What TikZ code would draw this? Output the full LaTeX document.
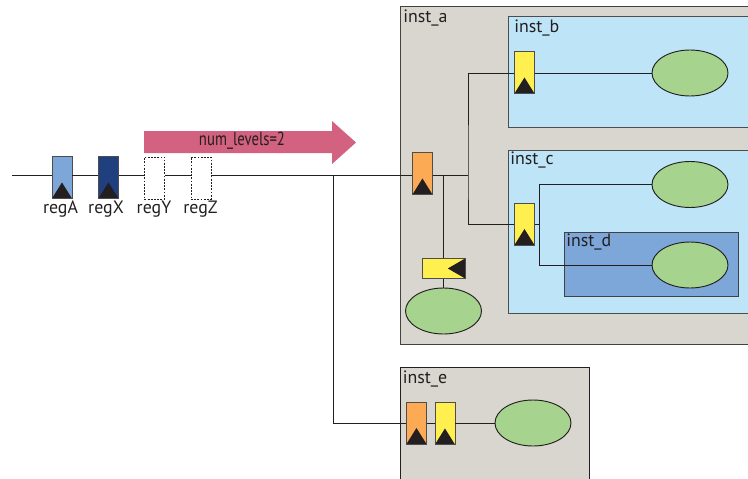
\documentclass[tikz,border=0pt]{standalone}
\usepackage{fontspec}
\setmainfont{PT Sans}
\newfontfamily\condfont[FakeStretch=0.78]{PT Sans}
\definecolor{ink}{HTML}{231F20}
\definecolor{wall}{HTML}{D9D6D0}
\definecolor{sky}{HTML}{BEE5F7}
\definecolor{midblue}{HTML}{7DA7D9}
\definecolor{navy}{HTML}{1F3F7F}
\definecolor{sun}{HTML}{FFF04F}
\definecolor{amber}{HTML}{FDAA55}
\definecolor{leaf}{HTML}{A6D38D}
\definecolor{rose}{HTML}{D2627F}
\tikzset{
  x=0.75pt,y=-0.75pt,
  wire/.style={draw=ink,line width=0.7pt},
  instlabel/.style={anchor=west,inner sep=0pt,font=\fontsize{13.4}{15}\selectfont,text=ink},
  reglabel/.style={anchor=center,inner sep=0pt,font=\fontsize{13.4}{15}\selectfont,text=ink},
  regbox/.style={draw=ink!80,line width=0.7pt,rectangle,inner sep=0pt,minimum width=15pt,minimum height=31.5pt,anchor=north west,
    path picture={\fill[ink] (path picture bounding box.south west) -- ([yshift=12pt]path picture bounding box.south) -- (path picture bounding box.south east) -- cycle;}},
  ghost/.style={draw=ink,line width=0.7pt,dash pattern=on 1.4pt off 1pt,fill=white,rectangle,inner sep=0pt,minimum width=15pt,minimum height=31.5pt,anchor=north west},
  sidereg/.style={draw=ink!80,line width=0.7pt,fill=sun,rectangle,inner sep=0pt,minimum width=32pt,minimum height=15pt,anchor=north west,
    path picture={\fill[ink] (path picture bounding box.north east) -- ([xshift=-13pt]path picture bounding box.east) -- (path picture bounding box.south east) -- cycle;}},
  blob/.style={ellipse,draw=ink,line width=0.7pt,fill=leaf,inner sep=0pt,minimum width=57pt,minimum height=34.5pt},
}
\usetikzlibrary{shapes.geometric}
\begin{document}
\begin{tikzpicture}
\useasboundingbox (0,0) rectangle (748,478);
% containers
\path[fill=wall,draw=ink!85,line width=0.7pt] (760,6) -- (400.5,6) -- (400.5,344.7) -- (760,344.7);
\path[fill=wall,draw=ink,line width=0.7pt] (400.5,490) -- (400.5,367.5) -- (589.5,367.5) -- (589.5,490);
\path[fill=sky,draw=ink!80,line width=0.7pt] (760,16) -- (508,16) -- (508,127.5) -- (760,127.5);
\path[fill=sky,draw=ink!80,line width=0.7pt] (760,150.5) -- (508,150.5) -- (508,313.5) -- (760,313.5);
\path[fill=midblue,draw=ink!85,line width=0.7pt] (564.5,232) rectangle (738,296);
\node[instlabel] (la) at (403,18) {inst\_a};
\node[instlabel] (lb) at (514,28) {inst\_b};
\node[instlabel] (lc) at (510,160) {inst\_c};
\node[instlabel] (ld) at (566,242) {inst\_d};
\node[instlabel] (le) at (402.5,379) {inst\_e};
% banner
\path[fill=rose] (144,131) -- (332,131) -- (332,121) -- (356,142.5) -- (332,164) -- (332,153) -- (144,153) -- cycle;
\node[inner sep=0pt,font=\condfont\fontsize{14.2}{16}\selectfont,text=ink] (banner) at (242,141) {num\_levels=2};
% registers
\node[regbox,fill=midblue] (regA) at (51.5,156) {};
\node[regbox,fill=navy] (regX) at (98,156) {};
\node[ghost] (regY) at (144,156.5) {};
\node[ghost] (regZ) at (190.5,156.5) {};
\node[regbox,fill=amber] (ora) at (412,152) {};
\node[regbox,fill=sun] (yb) at (514,51) {};
\node[regbox,fill=sun] (yc) at (514,202.5) {};
\node[sidereg] (ys) at (422,258) {};
\node[regbox,fill=amber] (ore) at (406,401.5) {};
\node[regbox,fill=sun] (ye) at (434.5,402) {};
\node[reglabel] (ta) at (60.5,209) {regA};
\node[reglabel] (tx) at (106,209) {regX};
\node[reglabel] (ty) at (154,209) {regY};
\node[reglabel] (tz) at (200.5,209) {regZ};
% ellipses
\node[blob] (eb) at (690,73) {};
\node[blob] (ec) at (690,184.5) {};
\node[blob] (ed) at (690,265) {};
\node[blob] (es) at (443.5,311) {};
\node[blob] (ee) at (533,423) {};
% junctions
\coordinate (start) at (12,175.5);
\coordinate (j0) at (333,175.5);
\coordinate (j1) at (443.5,175.5);
\coordinate (j2) at (468,175.5);
\coordinate (j3) at (539,224.5);
\coordinate (ybw) at (514,73);
\coordinate (ycw) at (514,224.5);
\coordinate (orew) at (406,423);
% connectors
\draw[wire] (start) -- (start -| regA.west);
\draw[wire] (start -| regA.east) -- (start -| regX.west);
\draw[wire] (start -| regX.east) -- (start -| regY.west);
\draw[wire] (start -| regY.east) -- (start -| regZ.west);
\draw[wire] (start -| regZ.east) -- (start -| ora.west);
\draw[wire] (start -| ora.east) -- (j2);
\draw[wire] (j0) |- (orew);
\draw[wire] (orew -| ore.east) -- (orew -| ye.west);
\draw[wire] (orew -| ye.east) -- (ee.west);
\draw[wire] (j1) -- (ys.north -| j1);
\draw[wire] (ys.south -| j1) -- (es.north);
\draw[wire] (ybw) -| (j2) |- (ycw);
\draw[wire] (ybw -| yb.east) -- (eb.west);
\draw[wire] (ycw -| yc.east) -- (j3);
\draw[wire] (ec.west) -| (j3) |- (ed.west);
\end{tikzpicture}
\end{document}
